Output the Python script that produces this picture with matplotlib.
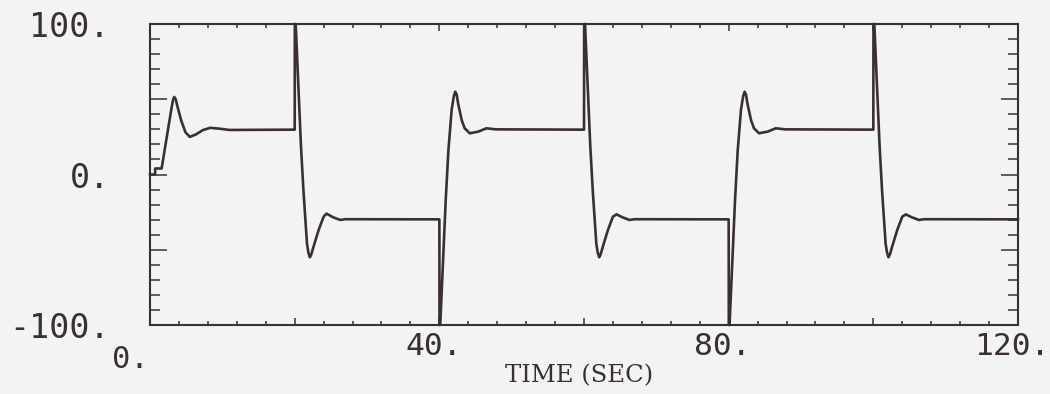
import numpy as np
import matplotlib.pyplot as plt
import matplotlib.transforms as mtransforms
from matplotlib.ticker import MultipleLocator

# Readings from the plot: time (s) and response, one block per half period
time_s = [
    0.0, 0.7, 0.7, 1.6, 3.0, 3.2, 3.35, 3.55, 3.8, 4.3, 4.9, 5.5, 6.3, 7.3, 8.3, 9.5, 11.0,
    20.0, 20.02, 20.14, 20.86, 21.2, 21.7, 21.9, 22.1, 22.3, 22.6, 23.3, 24.0, 24.4, 25.3, 26.3, 27.0,
    40.0, 40.02, 40.12, 40.88, 41.25, 41.7, 42.0, 42.2, 42.4, 42.6, 43.1, 43.5, 44.2, 45.4, 46.5, 47.8,
    60.0, 60.02, 60.14, 60.86, 61.2, 61.7, 61.9, 62.1, 62.3, 62.6, 63.3, 64.0, 64.5, 65.3, 66.3, 67.0,
    80.0, 80.02, 80.12, 80.88, 81.25, 81.7, 82.0, 82.2, 82.4, 82.6, 83.1, 83.5, 84.2, 85.4, 86.5, 87.8,
    100.0, 100.02, 100.14, 100.86, 101.2, 101.7, 101.9, 102.1, 102.3, 102.6, 103.3, 104.0, 104.5, 105.3, 106.3, 107.0,
    120.0,
]
response = [
    0.0, 0.0, 4.0, 4.0, 45.0, 50.0, 51.5, 50.0, 45.0, 36.0, 28.0, 25.0, 26.5, 29.5, 31.0, 30.5, 29.6,
    29.8, 100.0, 100.0, 19.6, -10.0, -46.0, -52.0, -55.0, -53.0, -48.0, -37.0, -28.0, -26.0, -28.4, -30.2, -29.7,
    -29.8, -100.0, -100.0, -17.0, 16.0, 43.0, 52.0, 55.0, 53.0, 47.0, 36.0, 30.7, 27.4, 28.5, 30.7, 30.0,
    29.8, 100.0, 100.0, 19.6, -10.0, -46.0, -52.0, -55.0, -53.0, -48.0, -37.0, -28.0, -26.5, -28.4, -30.2, -29.7,
    -29.8, -100.0, -100.0, -17.0, 16.0, 43.0, 52.0, 55.0, 53.0, 47.0, 36.0, 30.7, 27.4, 28.5, 30.7, 30.0,
    29.8, 100.0, 100.0, 19.6, -10.0, -46.0, -52.0, -55.0, -53.0, -48.0, -37.0, -28.0, -26.5, -28.4, -30.2, -29.7,
    -29.8,
]

x_ticks = [0, 20, 40, 60, 80, 100, 120]
x_labels = ['', '', '40.', '', '80.', '', '120.']
y_ticks = [-100, -50, 0, 50, 100]
y_labels = ['-100.', '', '0.', '', '100.']

ink = '#3a2f36'
paper = '#f3f3f1'

fig = plt.figure(figsize=(10.5, 3.94), dpi=100, facecolor=paper)
ax = fig.add_axes([0.1429, 0.1751, 0.8266, 0.764], facecolor=paper)

ax.plot(time_s, response, color=ink, lw=1.9, clip_on=False)

ax.set_xlim(0, 120)
ax.set_ylim(-100, 100)

ax.set_xticks(x_ticks)
ax.set_xticklabels(x_labels, family='DejaVu Sans Mono', fontsize=22.5, color=ink)
ax.xaxis.set_minor_locator(MultipleLocator(4))
ax.set_yticks(y_ticks)
ax.set_yticklabels(y_labels, family='DejaVu Sans Mono', fontsize=24, color=ink)
ax.yaxis.set_minor_locator(MultipleLocator(10))

ax.tick_params(axis='x', which='both', direction='in', top=True, bottom=True,
               color=ink, width=1.1, pad=5)
ax.tick_params(axis='x', which='major', length=5)
ax.tick_params(axis='x', which='minor', length=3)
ax.tick_params(axis='y', which='both', direction='in', left=True, right=True,
               color=ink, width=1.1, pad=29)
ax.tick_params(axis='y', which='major', length=12)
ax.tick_params(axis='y', which='minor', length=7)

# x labels sit a little left of their ticks
shift = mtransforms.ScaledTranslation(-6 / 100, 0, fig.dpi_scale_trans)
for lab in ax.get_xticklabels():
    lab.set_transform(lab.get_transform() + shift)

for s in ax.spines.values():
    s.set_color(ink)
    s.set_linewidth(1.5)

# the "0." under the origin sits off to the left
ax.annotate('0.', xy=(0, 0), xycoords=('data', 'axes fraction'),
            xytext=(-14, -31), textcoords='offset points',
            ha='center', va='baseline', family='DejaVu Sans Mono',
            fontsize=22, color=ink)

ax.set_xlabel('TIME (SEC)', family='DejaVu Serif', fontsize=17.5, color=ink)
ax.xaxis.set_label_coords(0.494, -0.13)

fig.savefig('out.png', dpi=100, facecolor=paper)
